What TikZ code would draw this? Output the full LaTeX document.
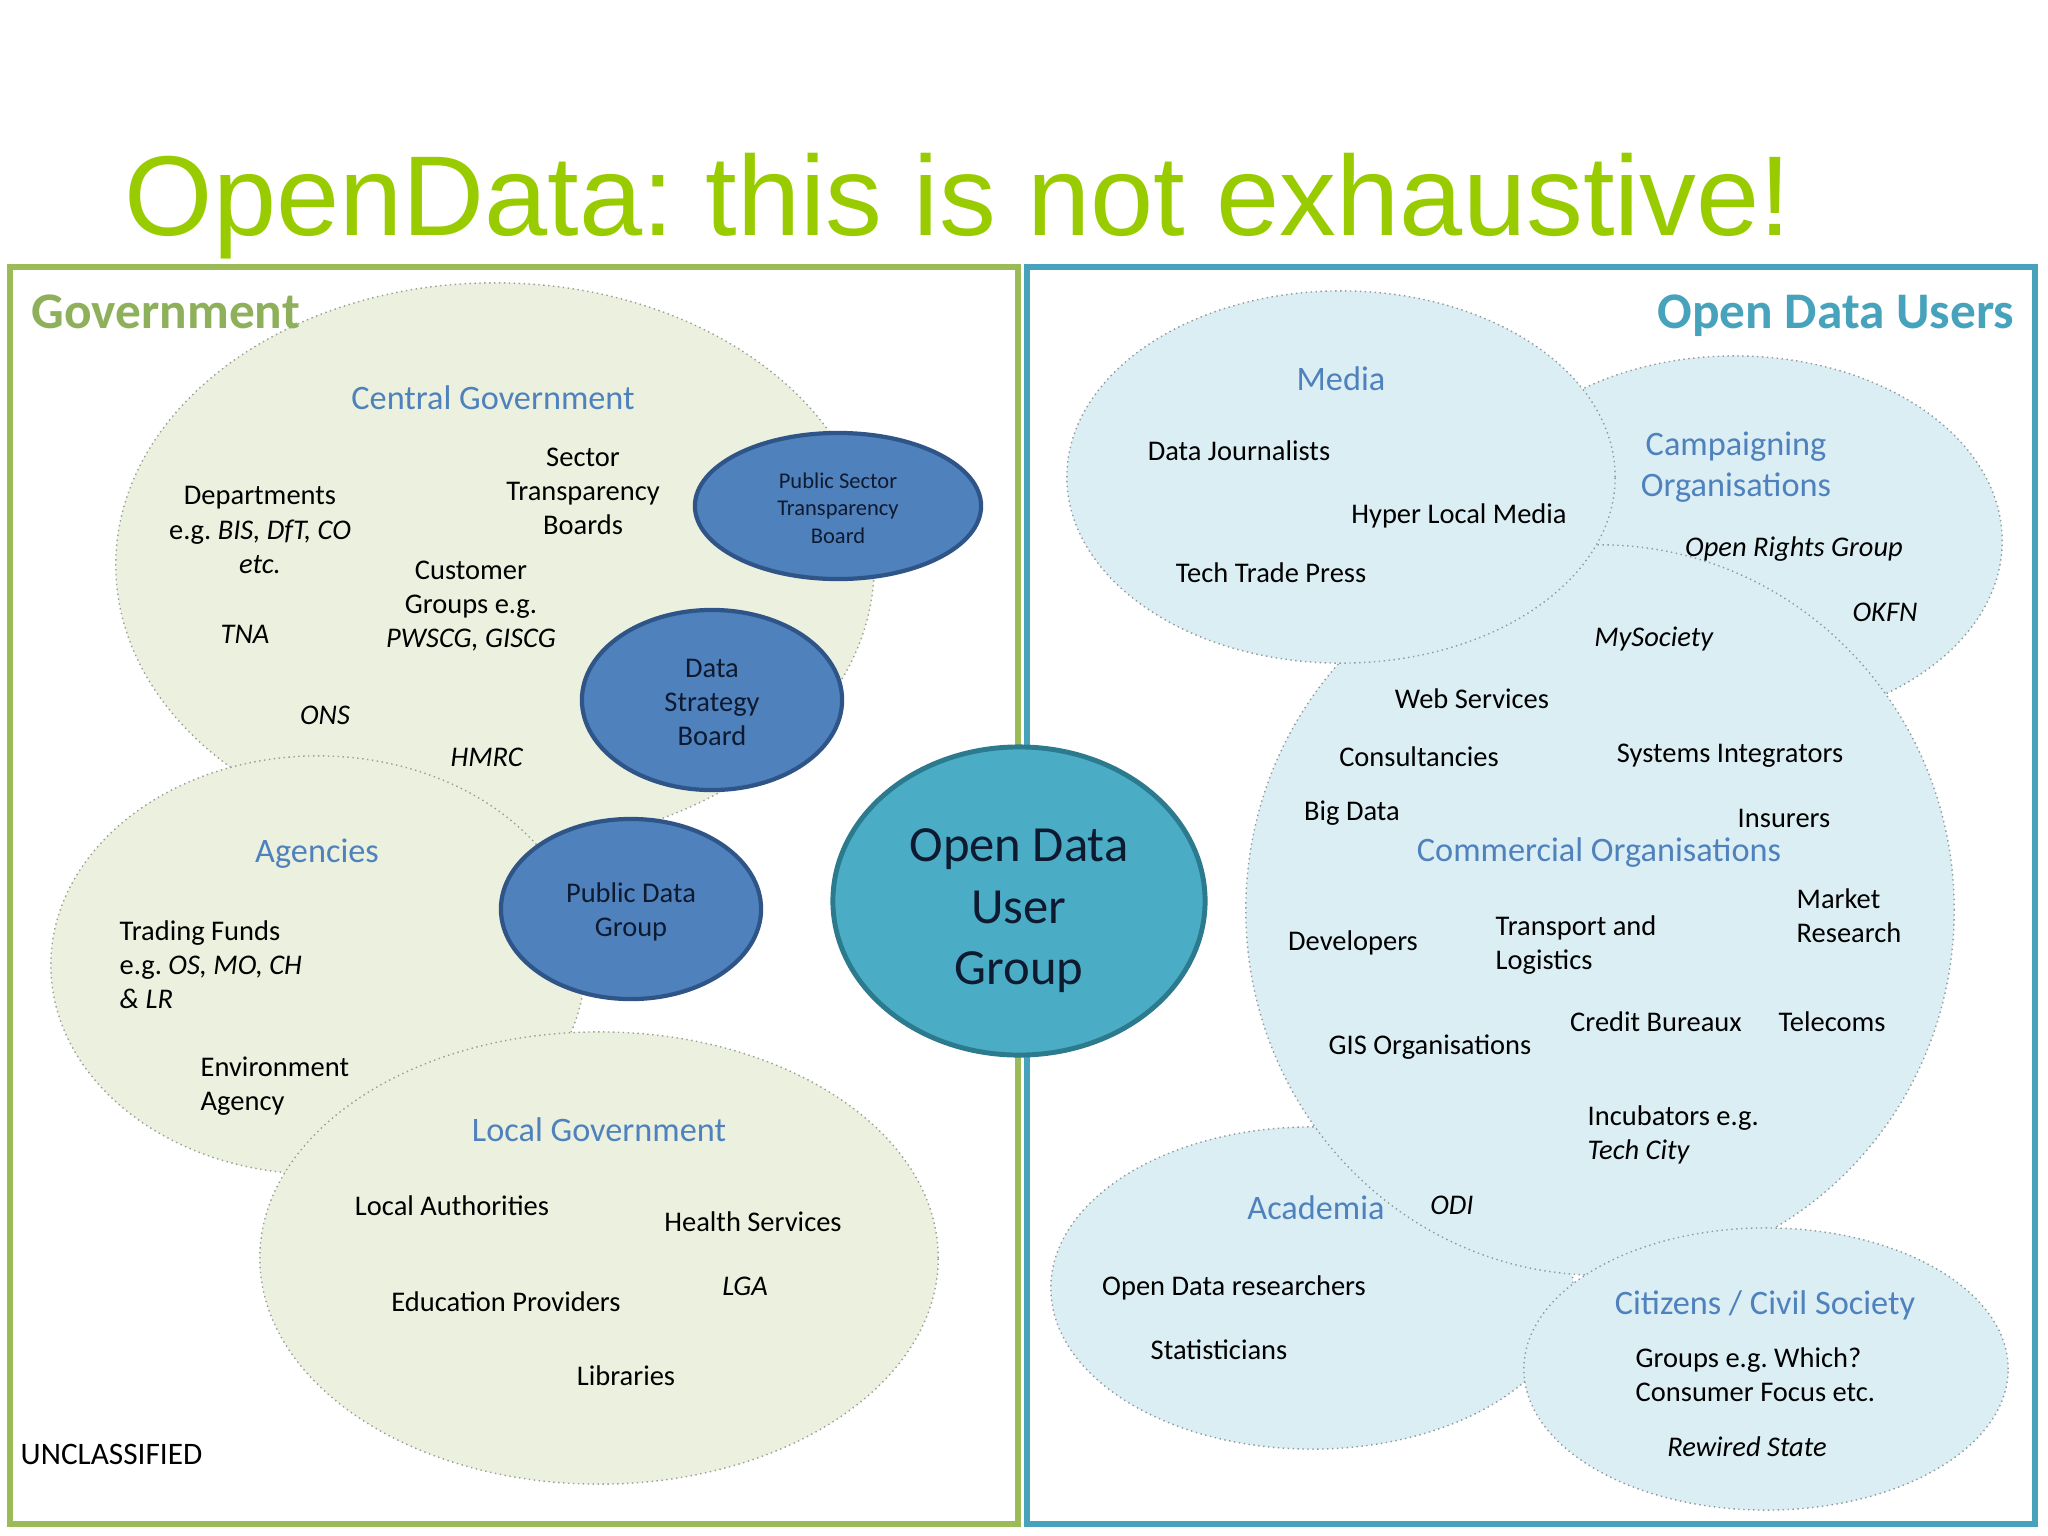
\documentclass[tikz,border=0pt]{standalone}
\usepackage{fontspec}
\setmainfont{Carlito}
\newfontfamily\titlefont{Liberation Sans}
\usetikzlibrary{shapes.geometric}
\frenchspacing
\definecolor{mytitle}{HTML}{99CC00}
\definecolor{mygreen}{HTML}{9BBB59}
\definecolor{mygreenlabel}{HTML}{8FB05A}
\definecolor{myteal}{HTML}{47A3BB}
\definecolor{mypalegreen}{HTML}{EBF1DE}
\definecolor{mypaleblue}{HTML}{DBEEF4}
\definecolor{myblue}{HTML}{4F81BD}
\definecolor{myblueedge}{HTML}{2F5588}
\definecolor{mycentre}{HTML}{4BACC6}
\definecolor{mycentreedge}{HTML}{2C7A8E}
\definecolor{myink}{HTML}{0E1A30}
\tikzset{
	blobgreen/.style={ellipse,inner sep=0,fill=mypalegreen,draw=black!30!mypalegreen!75!gray,densely dotted,line width=0.4pt},
	blobblue/.style={ellipse,inner sep=0,fill=mypaleblue,draw=black!30!mypaleblue!65!gray,densely dotted,line width=0.4pt},
	board/.style={ellipse,inner sep=0,fill=myblue,draw=myblueedge,line width=1.2pt,text=myink,align=center,font=\fontsize{8.1}{9.7}\selectfont},
	item/.style={inner sep=0,align=center,text=black,font=\fontsize{8.1}{9.7}\selectfont},
	itemleft/.style={item,align=left},
	head/.style={inner sep=0,align=center,text=myblue,font=\fontsize{9.75}{11.7}\selectfont},
	corner/.style={inner sep=0,font=\fontsize{14.6}{17}\selectfont\bfseries}
}
\begin{document}
\begin{tikzpicture}[x=0.01cm,y=-0.01cm]
	\useasboundingbox (0,0) rectangle (2048,1536);
	\fill[white] (0,0) rectangle (2048,1536);
	\node[anchor=base west,inner sep=0,text=mytitle,font=\fontsize{32.3}{38}\titlefont] (title) at (124,235) {OpenData: this is not exhaustive!};
	% frames
	\draw[line width=1.5pt,color=mygreen] (10,267) rectangle (1018,1524);
	\draw[line width=1.5pt,color=myteal] (1027,267) rectangle (2035,1524);
	% government side
	\node[blobgreen,minimum width=7.58cm,minimum height=5.64cm] (centralgov) at (495,565) {};
	\node[blobgreen,minimum width=5.34cm,minimum height=4.18cm] (agencies) at (318,965) {};
	\node[blobgreen,minimum width=6.78cm,minimum height=4.52cm] (localgov) at (599,1258) {};
	\node[corner,anchor=west,text=mygreenlabel] (government) at (31,312) {Government};
	\node[head] (centralhead) at (493,398) {Central Government};
	\node[item] (departments) at (260,530) {Departments\\e.g. \textit{BIS, DfT, CO}\\\textit{etc.}};
	\node[item] (sector) at (583,491) {Sector\\Transparency\\Boards};
	\node[item] (customer) at (471,606) {Customer\\Groups e.g.\\\textit{PWSCG, GISCG}};
	\node[item] (tna) at (245,634) {\textit{TNA}};
	\node[item] (ons) at (325,715) {\textit{ONS}};
	\node[item] (hmrc) at (487,757) {\textit{HMRC}};
	\node[head] (agencieshead) at (317,854) {Agencies};
	\node[itemleft,anchor=west] (trading) at (119,965) {Trading Funds\\e.g. \textit{OS, MO, CH}\\\textit{\& LR}};
	\node[itemleft,anchor=west] (environment) at (200,1086) {Environment\\Agency};
	\node[head] (localhead) at (599,1130) {Local Government};
	\node[item] (authorities) at (452,1206) {Local Authorities};
	\node[item] (health) at (753,1222) {Health Services};
	\node[item] (education) at (506,1302) {Education Providers};
	\node[item] (lga) at (745,1286) {\textit{LGA}};
	\node[item] (libraries) at (626,1376) {Libraries};
	\node[item,anchor=west,font=\fontsize{8.9}{10}\selectfont] (unclassified) at (20,1454) {UNCLASSIFIED};
	% users side
	\node[blobblue,minimum width=5.34cm,minimum height=3.7cm] (campaigning) at (1735,541) {};
	\node[blobblue,minimum width=5.22cm,minimum height=3.22cm] (academia) at (1312,1288) {};
	\node[blobblue,minimum width=7.08cm,minimum height=7.3cm] (commercial) at (1600,910) {};
	\node[blobblue,minimum width=5.48cm,minimum height=3.72cm] (media) at (1341,477) {};
	\node[blobblue,minimum width=4.84cm,minimum height=2.82cm] (citizens) at (1766,1369) {};
	\node[corner,anchor=east,text=myteal] (users) at (2015,316) {Open Data Users};
	\node[head] (mediahead) at (1341,379) {Media};
	\node[item] (journalists) at (1239,451) {Data Journalists};
	\node[item] (hyperlocal) at (1459,516) {Hyper Local Media};
	\node[item] (techpress) at (1271,573) {Tech Trade Press};
	\node[head,font=\fontsize{9.75}{11.6}\selectfont] (campaignhead) at (1736,467) {Campaigning\\Organisations};
	\node[item] (rights) at (1794,549) {\textit{Open Rights Group}};
	\node[item] (okfn) at (1885,612) {\textit{OKFN}};
	\node[item] (mysociety) at (1654,639) {\textit{MySociety}};
	\node[item] (web) at (1472,699) {Web Services};
	\node[item] (consultancies) at (1419,757) {Consultancies};
	\node[item] (integrators) at (1730,756) {Systems Integrators};
	\node[item] (bigdata) at (1352,813) {Big Data};
	\node[item] (insurers) at (1784,818) {Insurers};
	\node[head] (commercialhead) at (1599,853) {Commercial Organisations};
	\node[item] (developers) at (1353,943) {Developers};
	\node[itemleft,anchor=west] (transport) at (1495,945) {Transport and\\Logistics};
	\node[itemleft,anchor=west] (market) at (1796,916) {Market\\Research};
	\node[item] (gis) at (1430,1047) {GIS Organisations};
	\node[item] (credit) at (1656,1022) {Credit Bureaux};
	\node[item] (telecoms) at (1832,1022) {Telecoms};
	\node[itemleft,anchor=west] (incubators) at (1587,1135) {Incubators e.g.\\\textit{Tech City}};
	\node[item] (odi) at (1452,1205) {\textit{ODI}};
	\node[head] (academiahead) at (1316,1208) {Academia};
	\node[item] (researchers) at (1234,1288) {Open Data researchers};
	\node[item] (statisticians) at (1219,1350) {Statisticians};
	\node[head] (citizenshead) at (1765,1305) {Citizens / Civil Society};
	\node[itemleft,anchor=west] (groups) at (1635,1375) {Groups e.g. Which?\\Consumer Focus etc.};
	\node[item] (rewired) at (1747,1447) {\textit{Rewired State}};
	% boards and the group in the middle
	\node[board,minimum width=2.86cm,minimum height=1.46cm,font=\fontsize{6.4}{7.8}\selectfont] (sectorboard) at (838,506) {\rule{0pt}{5.5pt}Public Sector\\Transparency\\Board};
	\node[board,minimum width=2.6cm,minimum height=1.8cm] (strategyboard) at (712,700) {\rule{0pt}{6.5pt}Data\\Strategy\\Board};
	\node[board,minimum width=2.6cm,minimum height=1.8cm] (publicgroup) at (631,909) {\rule{0pt}{7.5pt}Public Data\\Group};
	\node[ellipse,inner sep=0,fill=mycentre,draw=mycentreedge,line width=1.4pt,text=myink,align=center,font=\fontsize{14.4}{17.5}\selectfont,minimum width=3.72cm,minimum height=3.08cm] (usergroup) at (1019,901) {\rule{0pt}{15pt}Open Data\\User\\Group};
\end{tikzpicture}
\end{document}
